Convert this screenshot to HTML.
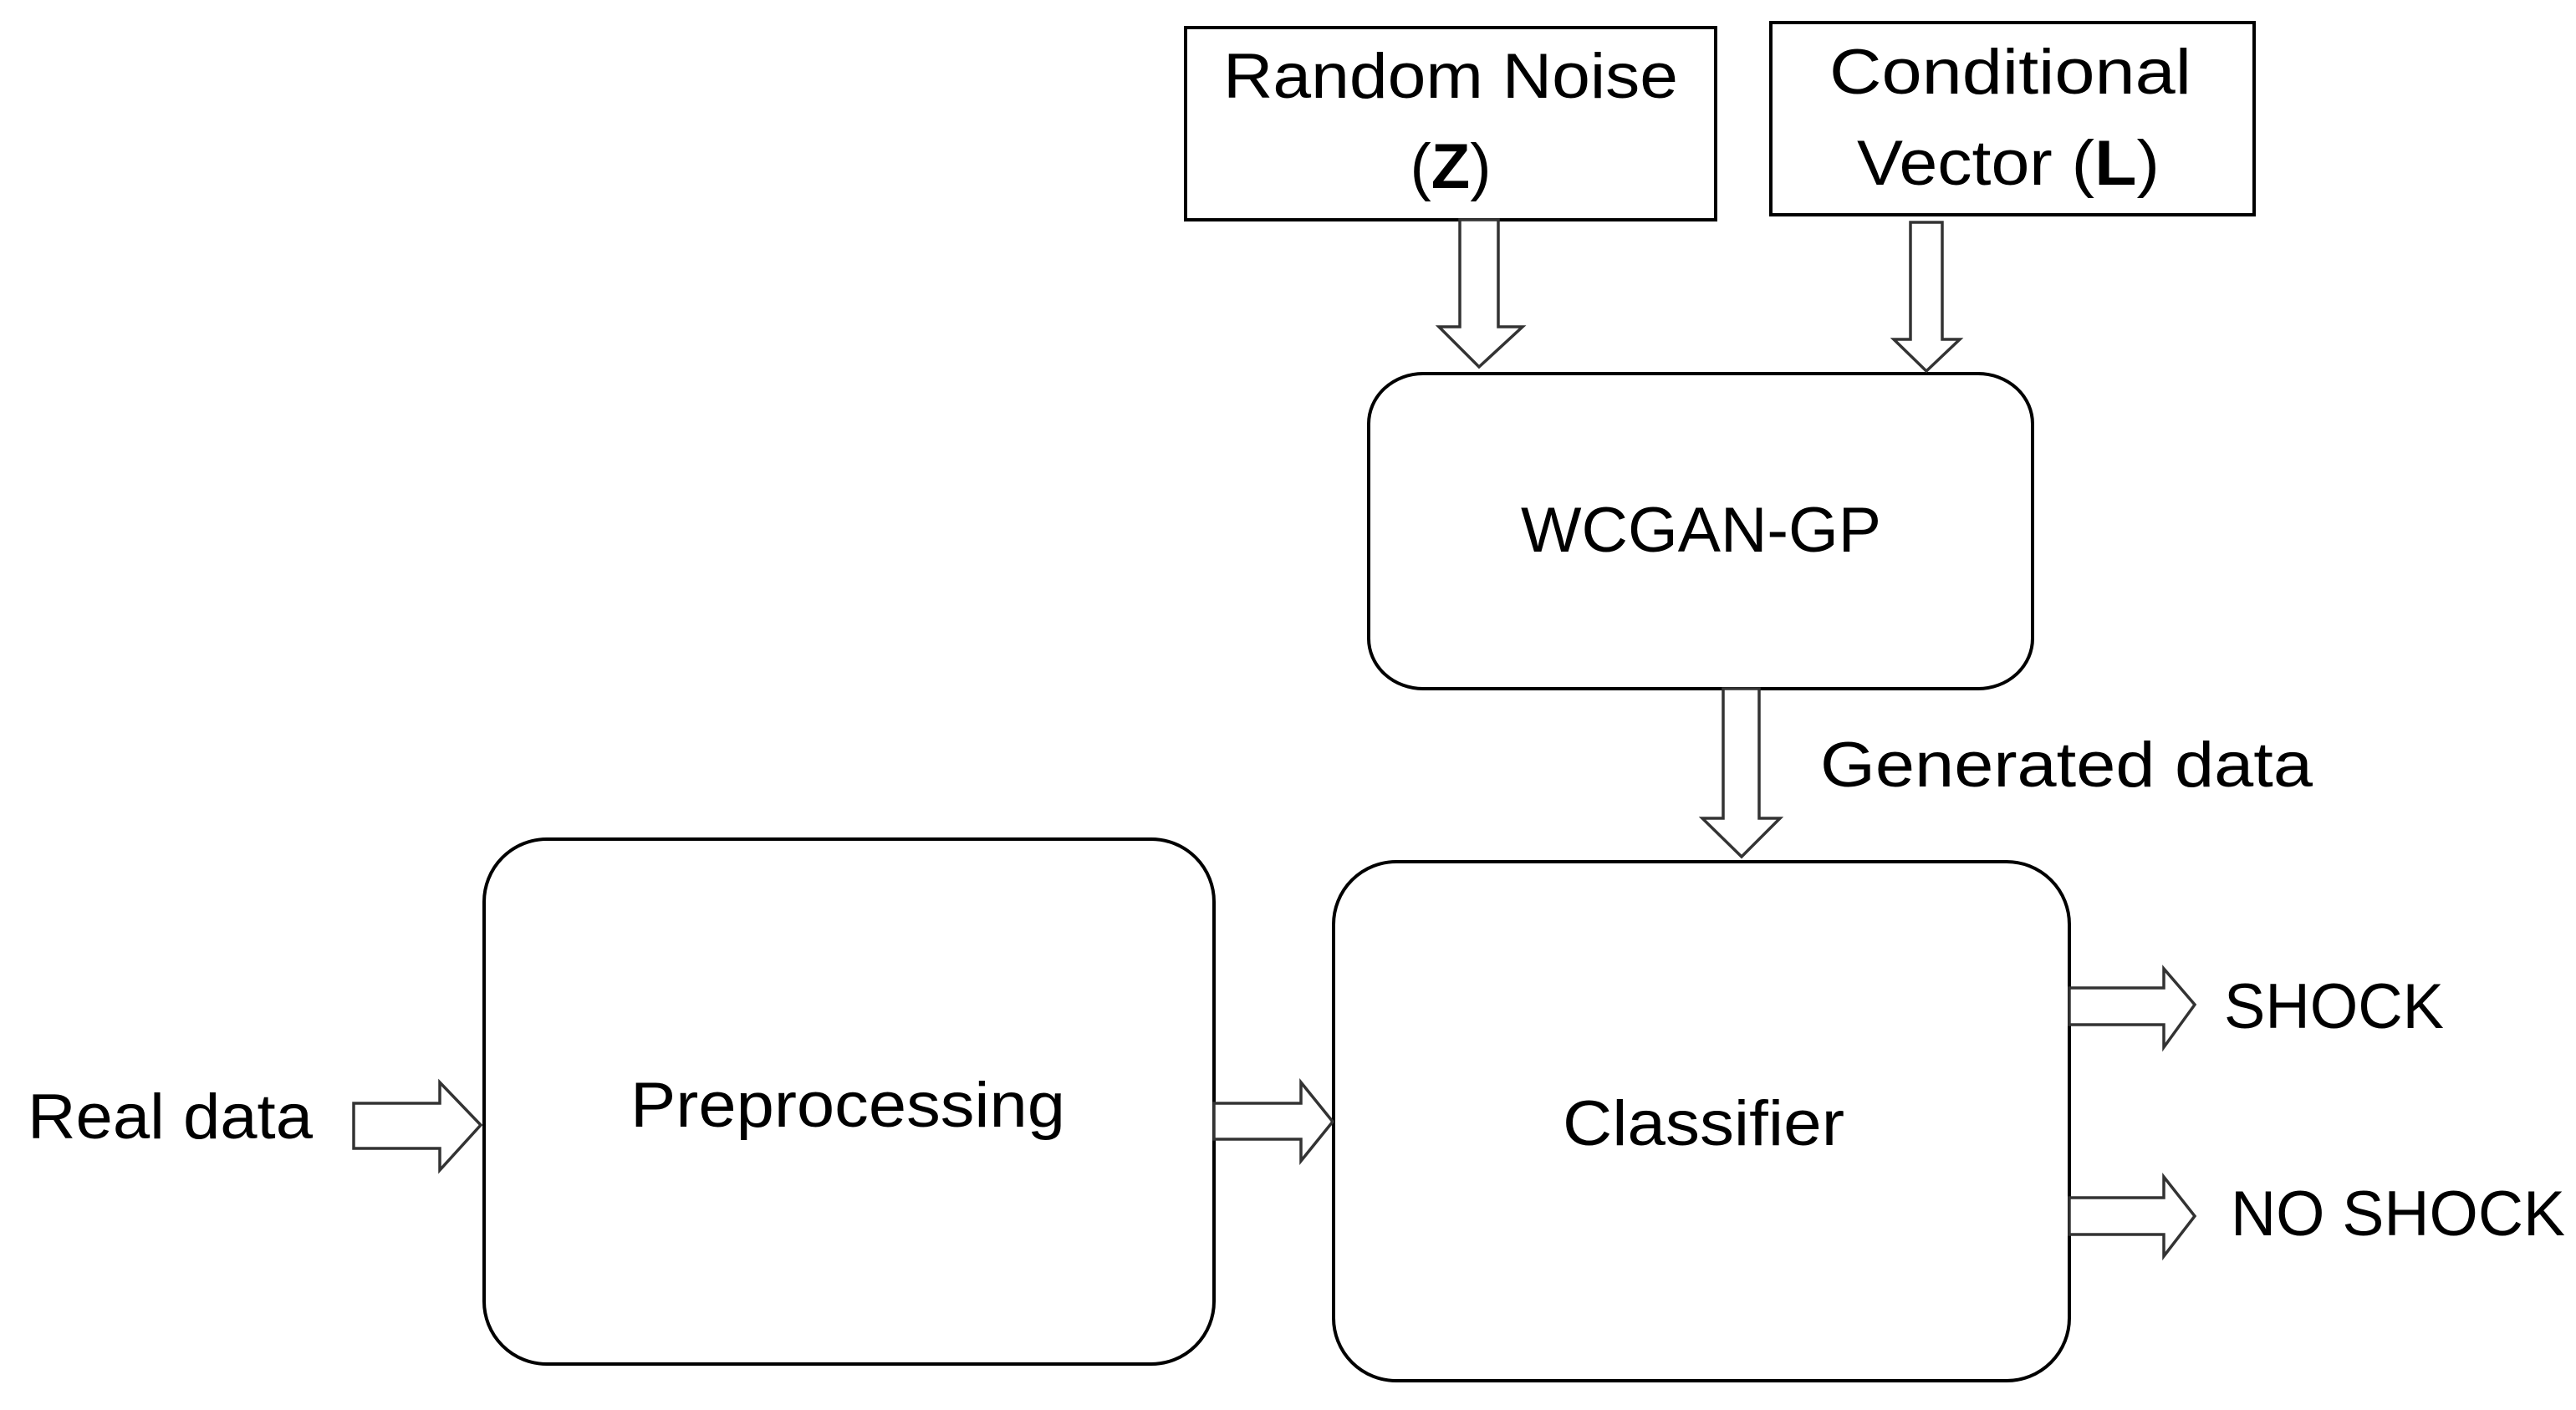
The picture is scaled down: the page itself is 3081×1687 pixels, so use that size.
<!DOCTYPE html>
<html><head><meta charset="utf-8"><style>html,body{margin:0;padding:0;background:#fff}svg{display:block}</style></head>
<body>
<svg width="3081" height="1687" viewBox="0 0 3081 1687" xmlns="http://www.w3.org/2000/svg" font-family="'Liberation Sans', sans-serif" fill="#000">
<g fill="none" stroke="#000" stroke-width="4">
<rect x="1418" y="33" width="634" height="230"/>
<rect x="2118" y="27" width="578" height="230"/>
<rect x="1637" y="447" width="794" height="377" rx="65" ry="60"/>
<rect x="579" y="1004" width="873" height="628" rx="75" ry="75"/>
<rect x="1595" y="1031" width="880" height="621" rx="75" ry="75"/>
</g>
<g fill="#fff" stroke="#333" stroke-width="3.5" stroke-linejoin="miter">
<polygon points="1746,263 1792,263 1792,391 1821,391 1769,439 1721,391 1746,391"/>
<polygon points="2285,266 2323,266 2323,406 2344,406 2304,444 2265,406 2285,406"/>
<polygon points="2061,824 2104,824 2104,979 2129,979 2083,1025 2036,979 2061,979"/>
<polygon points="423,1320 526,1320 526,1295 575,1346 526,1400 526,1374 423,1374"/>
<polygon points="1452,1320 1556,1320 1556,1295 1594,1342 1556,1389 1556,1363 1452,1363"/>
<polygon points="2475,1182 2588,1182 2588,1159 2625,1202 2588,1253 2588,1226 2475,1226"/>
<polygon points="2475,1433 2588,1433 2588,1408 2625,1455 2588,1503 2588,1477 2475,1477"/>
</g>
<g font-size="76">
<text x="1463" y="117" textLength="544" lengthAdjust="spacingAndGlyphs">Random Noise</text>
<text x="1735" y="225" text-anchor="middle"><tspan>(</tspan><tspan font-weight="bold">Z</tspan><tspan>)</tspan></text>
<text x="2188" y="112" textLength="433" lengthAdjust="spacingAndGlyphs">Conditional</text>
<text x="2221" y="221" textLength="362" lengthAdjust="spacingAndGlyphs">Vector (<tspan font-weight="bold">L</tspan>)</text>
<text x="1819" y="660" textLength="431" lengthAdjust="spacingAndGlyphs">WCGAN-GP</text>
<text x="2177" y="941" textLength="589" lengthAdjust="spacingAndGlyphs">Generated data</text>
<text x="33" y="1362" textLength="341" lengthAdjust="spacingAndGlyphs">Real data</text>
<text x="754" y="1348" textLength="520" lengthAdjust="spacingAndGlyphs">Preprocessing</text>
<text x="1869" y="1370" textLength="337" lengthAdjust="spacingAndGlyphs">Classifier</text>
<text x="2660" y="1230" textLength="263" lengthAdjust="spacingAndGlyphs">SHOCK</text>
<text x="2668" y="1478" textLength="400" lengthAdjust="spacingAndGlyphs">NO SHOCK</text>
</g>
</svg>
</body></html>
